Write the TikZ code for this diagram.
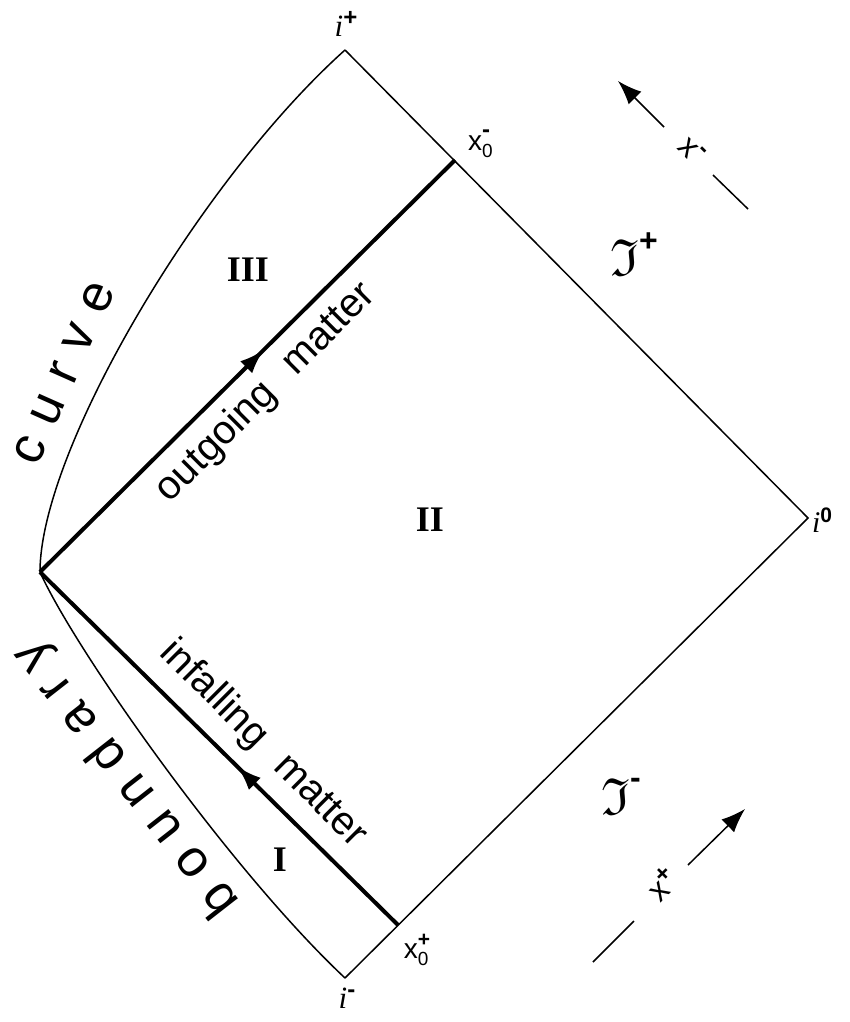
\documentclass[tikz,border=0pt]{standalone}
\usepackage{amsmath,amssymb}
\usepackage{fontspec}
\setmainfont{Liberation Serif}
\setsansfont{Liberation Sans}
\newfontfamily\spacedsans{Liberation Sans}[LetterSpace=32]
\usetikzlibrary{decorations.markings,arrows.meta}
\newcommand\bsup[3]{\raisebox{#1}{\normalfont\sffamily\bfseries\fontsize{#2}{#2}\selectfont #3}}
\begin{document}
\begin{tikzpicture}[x=1pt,y=-1pt,
  thinline/.style={line width=1.5pt},
  thickline/.style={line width=4pt},
  midarrow/.style={postaction={decorate},decoration={markings,
     mark=at position #1 with {\arrow{Latex[length=25pt,width=17pt]}}}},
  flow/.style={thinline,-{Latex[length=24pt,width=18pt]}},
  region/.style={font=\bfseries\fontsize{36}{36}\selectfont},
  lab/.style={inner sep=0pt},
  matterlab/.style={font=\sffamily\fontsize{40}{40}\selectfont, inner sep=0pt},
  bdlab/.style={font=\spacedsans\fontsize{52}{52}\selectfont, inner sep=0pt}
]
\useasboundingbox (0,0) rectangle (850,1022);

\coordinate (ip) at (345,50);
\coordinate (io) at (808,518);
\coordinate (im) at (345,978);
\coordinate (L)  at (40,572);
\coordinate (xm) at (455,160);
\coordinate (xp) at (398,925);

% diamond edges
\draw[thinline] (ip) -- (io) -- (im);
\draw[thinline] (L) .. controls (40,450) and (200,180) .. (ip);
\draw[thinline] (L) .. controls (75,650) and (230,870) .. (im);

% matter lines
\draw[thickline, midarrow=0.54] (L) -- (xm);
\draw[thickline, midarrow=0.45] (xp) -- (L);

% vertex labels
\node[lab, font=\itshape\fontsize{31}{31}\selectfont] (lip) at (346,24) {i\bsup{11pt}{24}{+}};
\node[lab, font=\itshape\fontsize{30}{30}\selectfont] (lio) at (822,520) {i\bsup{10pt}{21}{0}};
\node[lab, font=\itshape\fontsize{31}{31}\selectfont] (lim) at (347,998) {i\bsup{11pt}{24}{-}};
\node[lab, font=\sffamily\fontsize{28}{28}\selectfont] (lxm) at (479,144) {x\rlap{\raisebox{-7pt}{\fontsize{19}{19}\selectfont 0}}\bsup{13pt}{24}{-}};
\node[lab, font=\sffamily\fontsize{28}{28}\selectfont] (lxp) at (417,950) {x\rlap{\raisebox{-7pt}{\fontsize{19}{19}\selectfont 0}}\bsup{12pt}{21}{+}};

% regions
\node[region] (r3) at (248,270) {III};
\node[region] (r2) at (430,520) {II};
\node[region] (r1) at (280,860) {I};

% scri
\node[lab] (scrp) at (634,254) {\scalebox{5.2}{$\mathfrak{I}$}\bsup{24pt}{32}{+}};
\node[lab] (scrm) at (621,796) {\scalebox{5.2}{$\mathfrak{I}$}\bsup{26pt}{32}{-}};

% matter labels
\node[matterlab, rotate=45] (og) at (266,393) {outgoing\hspace{0.65em}matter};
\node[matterlab, rotate=-45] (inf) at (263,744) {infalling\hspace{0.65em}matter};

% boundary curve labels
\node[bdlab, rotate=66] (cv) at (64,373) {curve};
\node[bdlab, rotate=128] (bd) at (127,778) {boundary};

% coordinate arrows
\coordinate (a1s) at (664,127);
\coordinate (a1e) at (618,81);
\coordinate (b1s) at (713,175);
\coordinate (b1e) at (748,209);
\draw[flow] (a1s) -- (a1e);
\draw[thinline] (b1s) -- (b1e);
\node[lab, rotate=-45, font=\sffamily\fontsize{32}{32}\selectfont] (lxminus) at (692,150) {x\bsup{12pt}{24}{-}};

\coordinate (a2s) at (688,865);
\coordinate (a2e) at (745,809);
\coordinate (b2s) at (634,921);
\coordinate (b2e) at (593,962);
\draw[flow] (a2s) -- (a2e);
\draw[thinline] (b2s) -- (b2e);
\node[lab, rotate=45, font=\sffamily\fontsize{32}{32}\selectfont] (lxplus) at (662,884) {x\bsup{12pt}{24}{+}};
\end{tikzpicture}
\end{document}
